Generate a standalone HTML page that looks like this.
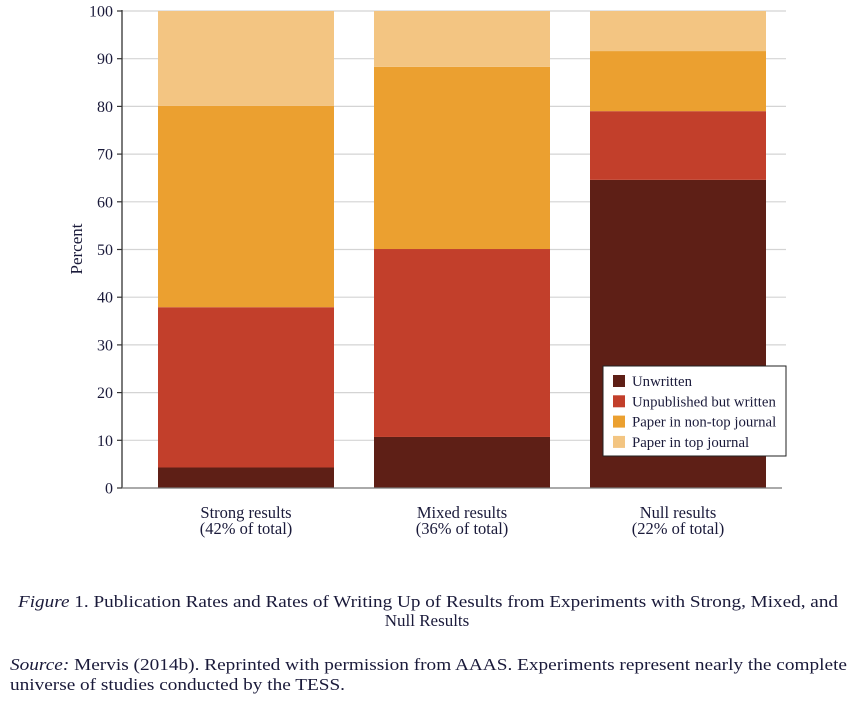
<!DOCTYPE html>
<html><head><meta charset="utf-8"><style>
body{margin:0;background:#fff;width:855px;height:705px;overflow:hidden;font-family:"Liberation Serif",serif;color:#1a1a3a}
</style></head><body>
<svg width="855" height="705" xmlns="http://www.w3.org/2000/svg" font-family="Liberation Serif, serif">
<g id="grid"></g><g id="bars"></g><g id="axes"></g><g id="legend"></g>
<text x="82" y="249" font-size="17" fill="#1a1a3a" text-anchor="middle" transform="rotate(-90 82 249)">Percent</text>
<text x="18" y="607" font-size="17" fill="#1a1a3a" textLength="820" lengthAdjust="spacingAndGlyphs"><tspan font-style="italic">Figure</tspan> 1. Publication Rates and Rates of Writing Up of Results from Experiments with Strong, Mixed, and</text>
<text x="427" y="626" font-size="17" fill="#1a1a3a" text-anchor="middle">Null Results</text>
<text x="10" y="670" font-size="17" fill="#1a1a3a" textLength="837" lengthAdjust="spacingAndGlyphs"><tspan font-style="italic">Source:</tspan> Mervis (2014b). Reprinted with permission from AAAS. Experiments represent nearly the complete</text>
<text x="10" y="690" font-size="17" fill="#1a1a3a" textLength="335" lengthAdjust="spacingAndGlyphs">universe of studies conducted by the TESS.</text>
</svg>
<script>
const categories=["Strong results","Mixed results","Null results"];
const subLabels=["(42% of total)","(36% of total)","(22% of total)"];
const seriesNames=["Unwritten","Unpublished but written","Paper in non-top journal","Paper in top journal"];
const unwritten=[4.3,10.7,64.6];
const unpublished=[33.6,39.4,14.4];
const nonTop=[42.2,38.2,12.6];
const topJournal=[19.9,11.7,8.4];
const yTicks=[0,10,20,30,40,50,60,70,80,90,100];
const colors=["#5e1f16","#c23f2b","#eba030","#f3c582"];
const ns="http://www.w3.org/2000/svg";
const y0=488,y1=11,xL=122,xR=786;
const y=v=>y0+(y1-y0)*v/100;
const barX=i=>158+i*216,barW=176;
function mk(t,a,p){const e=document.createElementNS(ns,t);for(const k in a)e.setAttribute(k,a[k]);p.appendChild(e);return e;}
const grid=document.getElementById('grid'),bars=document.getElementById('bars'),axes=document.getElementById('axes'),leg=document.getElementById('legend');
yTicks.forEach(t=>{
 if(t>0){const g=mk('line',{x1:xL,x2:xR,y1:y(t),y2:y(t),stroke:'#d4d4d4','stroke-width':1.2},grid);
 
 }
 const k=mk('line',{x1:117,x2:xL,y1:y(t),y2:y(t),stroke:'#333','stroke-width':1.2},axes);
 
 
 const l=mk('text',{x:113,y:y(t)+5.5,'font-size':16,'text-anchor':'end',fill:'#1a1a3a'},axes);l.textContent=t;
 
 
});
const series=[unwritten,unpublished,nonTop,topJournal];
categories.forEach((c,i)=>{
 let acc=0;
 series.forEach((s,j)=>{
  const r=mk('rect',{x:barX(i),width:barW,y:y(acc+s[i]),height:y(acc)-y(acc+s[i]),fill:colors[j]},bars);
  
  
  acc+=s[i];
 });
 const cx=barX(i)+barW/2;
 const a=mk('text',{x:cx,y:518,'font-size':16.5,'text-anchor':'middle',fill:'#1a1a3a'},axes);a.textContent=c;
 
 
 const b=mk('text',{x:cx,y:534,'font-size':16.5,'text-anchor':'middle',fill:'#1a1a3a'},axes);b.textContent=subLabels[i];
 
 
});
const ya=mk('line',{x1:xL,x2:xL,y1:y1-1,y2:y0,stroke:'#333','stroke-width':1.3},axes);


const xa=mk('line',{x1:xL,x2:782,y1:y0,y2:y0,stroke:'#777','stroke-width':1.3},axes);


const box=mk('rect',{x:603,y:366,width:183,height:90,fill:'#fff',stroke:'#222','stroke-width':1},leg);


seriesNames.forEach((n,j)=>{
 const ly=375+j*20.3;
 const sw=mk('rect',{x:613,y:ly,width:12,height:12,fill:colors[j]},leg);
 
 
 const t=mk('text',{x:632,y:ly+11,'font-size':14.8,fill:'#1a1a3a'},leg);t.textContent=n;
 
 
});
</script>
</body></html>
